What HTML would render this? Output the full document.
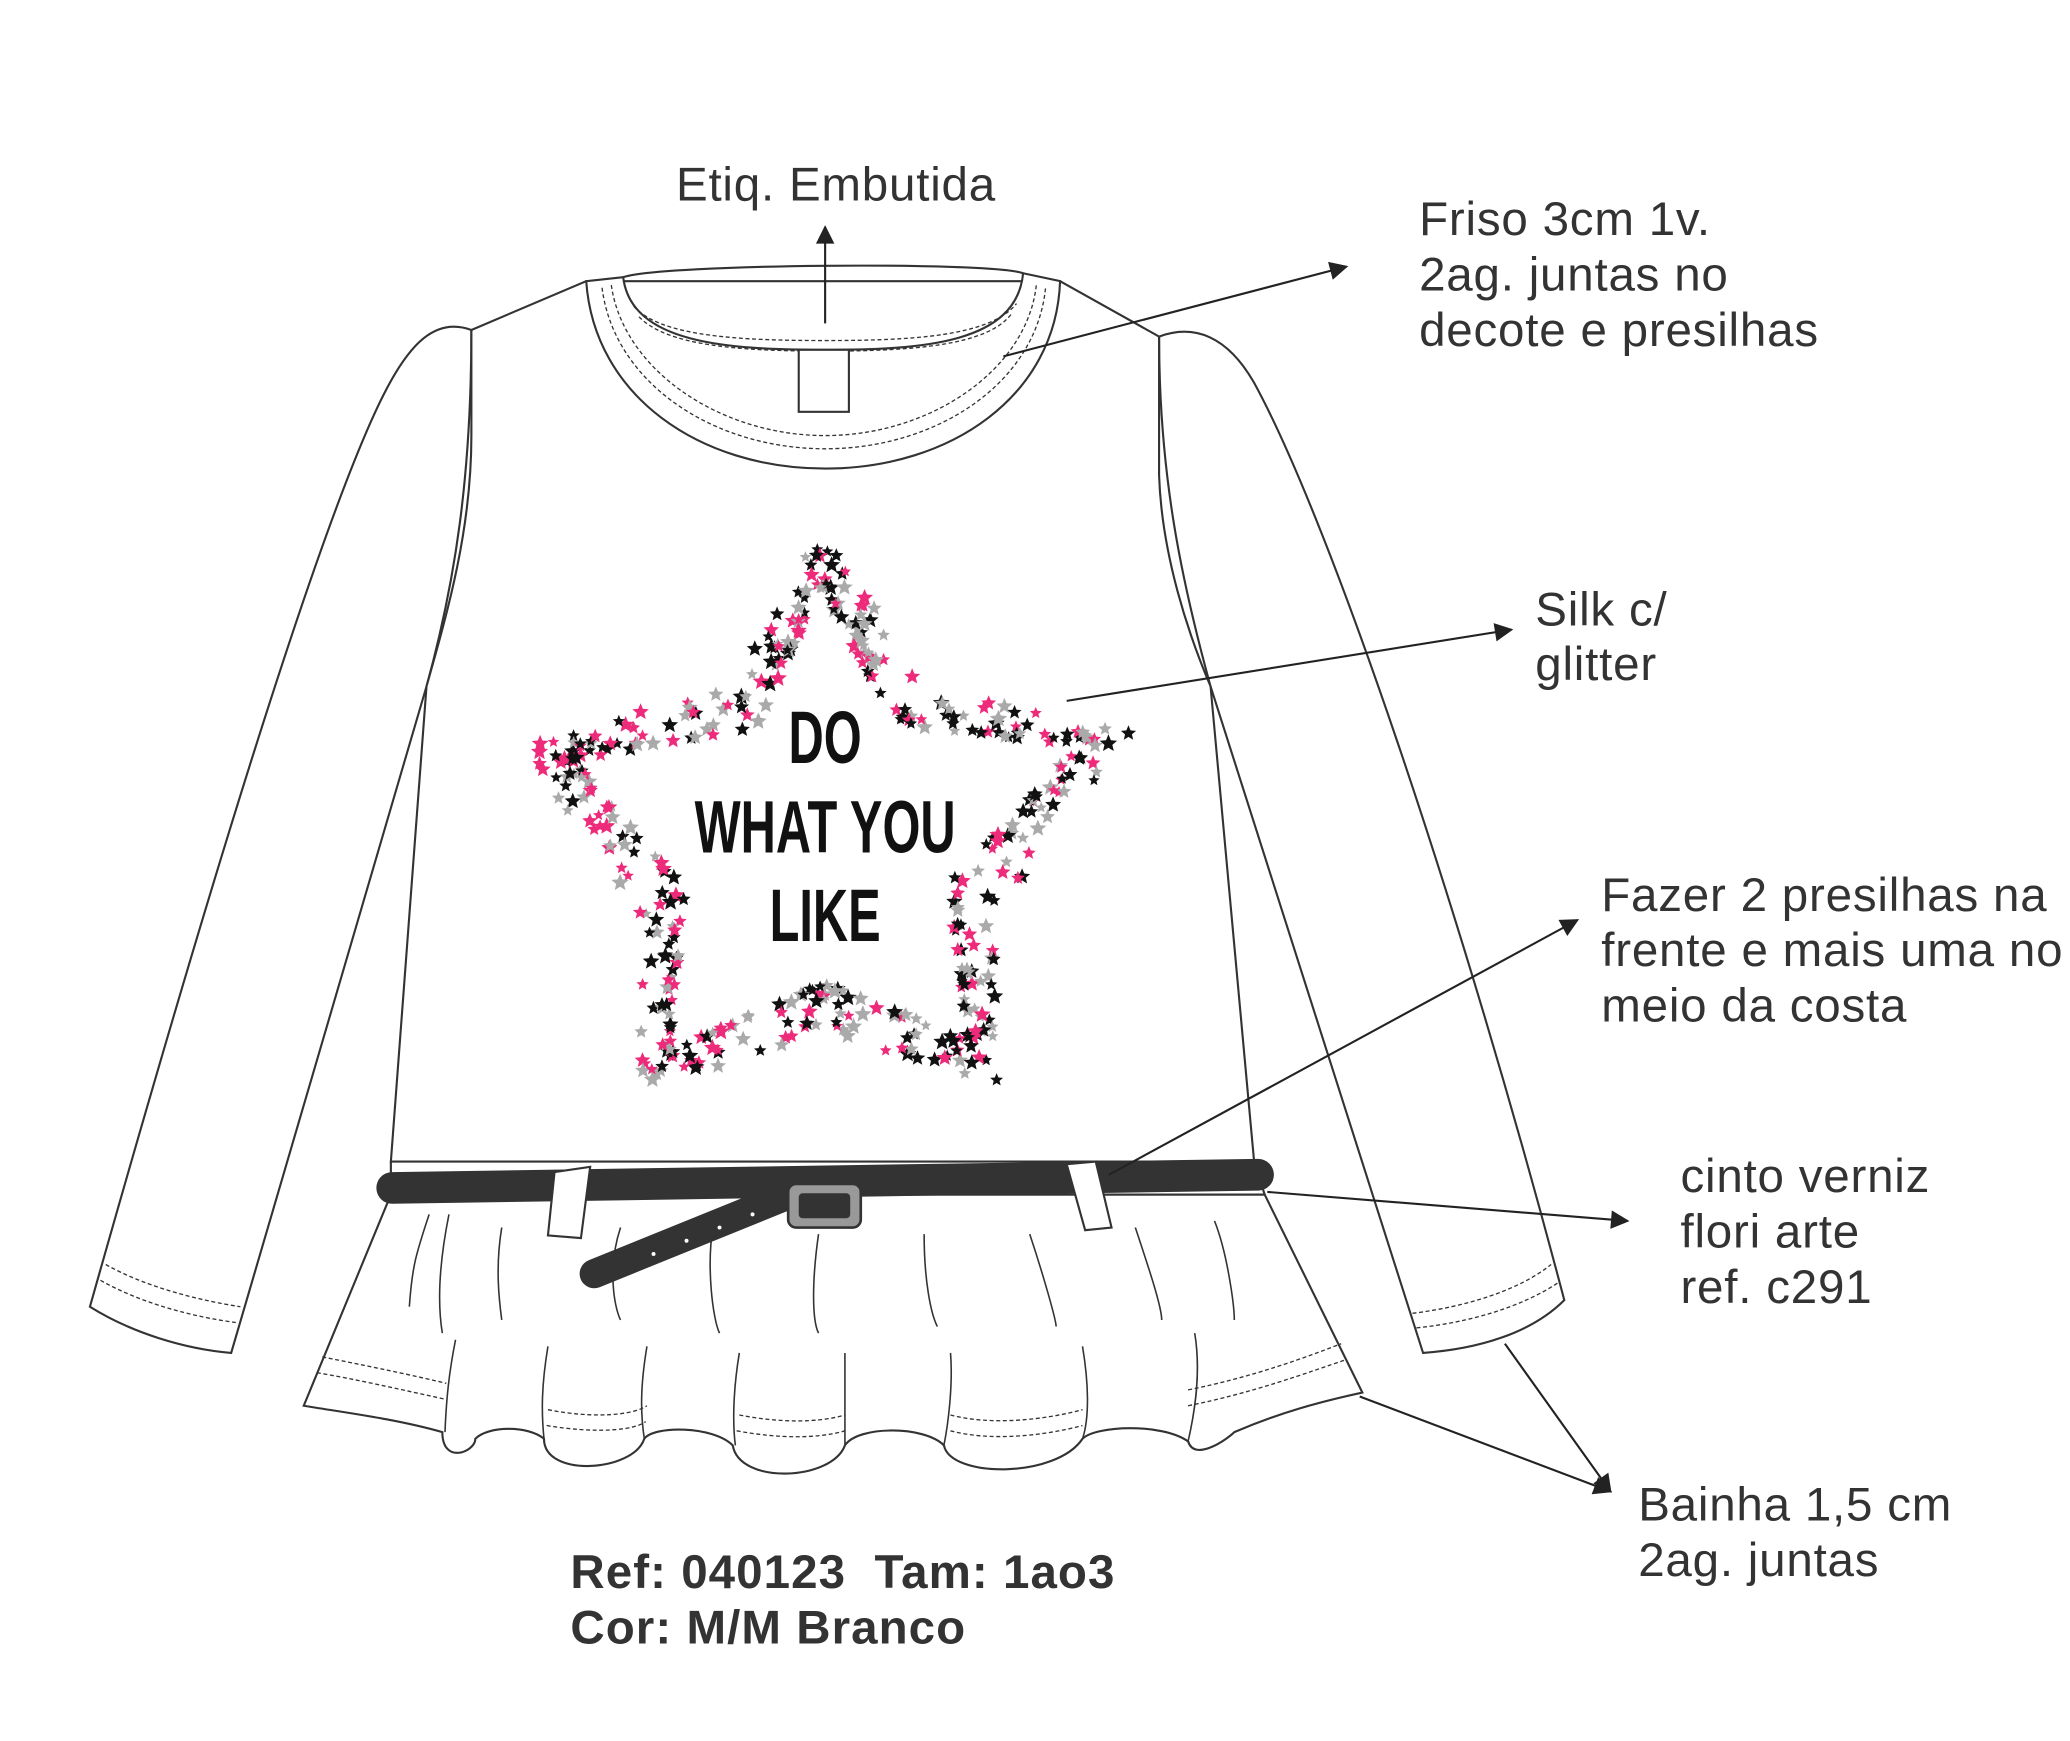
<!DOCTYPE html>
<html><head><meta charset="utf-8"><style>
html,body{margin:0;padding:0;background:#fff;}
svg{display:block}
text{font-family:"Liberation Sans",sans-serif;fill:#333}
</style></head><body>
<svg id="s" width="2070" height="1741" viewBox="0 0 1568 1319" xmlns="http://www.w3.org/2000/svg">
<defs>
<marker id="b" viewBox="0 0 10 10" markerWidth="16" markerHeight="14" refX="9" refY="5" orient="auto" markerUnits="userSpaceOnUse"><path d="M0,0 L10,5 L0,10 z" fill="#222"/></marker></defs>
<g fill="none" stroke="#333" stroke-width="1.6">
<path d="M357,250 C330,240 310,260 290,300 C240,400 150,700 68,990 C100,1010 140,1022 175,1025 L323,520 C345,440 357,360 357,250 Z" fill="#fff"/>
<path d="M80,958 C110,975 150,985 182,990" stroke-dasharray="3,2" stroke-width="1"/>
<path d="M76,970 C108,988 148,998 179,1002" stroke-dasharray="3,2" stroke-width="1"/>
<path d="M878,255 C905,245 930,255 950,290 C1010,400 1110,700 1185,985 C1160,1010 1120,1022 1078,1025 L917,520 C895,440 878,360 878,255 Z" fill="#fff"/>
<path d="M1070,995 C1110,990 1150,978 1175,958" stroke-dasharray="3,2" stroke-width="1"/>
<path d="M1073,1006 C1113,1002 1153,990 1180,972" stroke-dasharray="3,2" stroke-width="1"/>
<path d="M296,905 L230,1065 C260,1070 300,1075 335,1085 C335,1110 360,1100 360,1090 C370,1080 400,1080 412,1090 C412,1120 480,1115 488,1090 C495,1080 540,1080 555,1095 C560,1125 630,1122 640,1095 C650,1080 700,1080 715,1095 C720,1120 800,1120 820,1090 C830,1080 880,1078 900,1092 C905,1108 930,1090 935,1085 C970,1070 1000,1062 1032,1055 L958,905 Z" fill="#fff"/>
<path d="M296,880 L296,905 L958,905 L950,880" fill="#fff"/>
<path d="M357,250 L444,213 L803,213 L878,255 L878,360 C880,420 900,480 917,520 L950,880 L296,880 L323,520 C340,460 357,400 357,330 Z" fill="#fff"/>
<path d="M325,920 C315,950 312,960 310,990 M340,920 C335,945 330,980 335,1010 M380,930 C375,960 378,985 380,1000 M470,930 C460,960 465,990 470,1000 M540,930 C535,960 540,1000 545,1010 M620,935 C615,970 615,1000 620,1010 M700,935 C700,970 705,995 710,1005 M780,935 C790,965 800,1000 800,1005 M860,930 C870,960 880,990 880,1000 M920,925 C930,950 935,990 935,1000 M345,1015 C340,1040 338,1060 337,1085 M415,1020 C410,1050 410,1070 412,1090 M490,1020 C485,1050 485,1070 488,1090 M560,1025 C555,1055 555,1080 557,1095 M640,1025 C640,1055 640,1080 640,1095 M720,1025 C722,1050 718,1080 715,1095 M820,1020 C825,1050 825,1075 820,1090 M905,1010 C910,1040 905,1070 900,1092" stroke-width="1.2"/>
<path d="M240,1040 C270,1045 300,1052 337,1060 M415,1068 C450,1075 480,1072 490,1065 M560,1072 C590,1078 620,1078 640,1072 M720,1072 C750,1080 790,1076 820,1068 M900,1065 C950,1055 990,1040 1020,1030" stroke-dasharray="3,2" stroke-width="1"/>
<path d="M244,1028 C274,1034 304,1040 338,1048 M414,1080 C450,1086 480,1084 489,1077 M558,1084 C590,1090 620,1090 640,1084 M720,1084 C750,1092 790,1088 820,1080 M900,1053 C950,1043 990,1028 1016,1018" stroke-dasharray="3,2" stroke-width="1"/>
<path d="M444,213 C450,300 530,355 625,355 C720,355 800,300 803,213 L775,207 C770,260 700,265 625,265 C550,265 478,260 472,210 Z" fill="#fff"/>
<path d="M472,210 C500,200 750,198 775,207" />
<path d="M456,218 C465,290 540,340 625,340 C710,340 785,290 792,218 M463,216 C472,280 545,330 625,330 C705,330 778,280 785,216 M480,232 C500,255 560,258 625,258 C690,258 750,255 770,230 M484,240 C505,262 560,266 625,266 C690,266 748,262 766,238" stroke-dasharray="3,2" stroke-width="1"/>
<rect x="605" y="265" width="38" height="47" fill="#fff"/>
</g>
<g id="stars"></g>
<g transform="translate(625,0) scale(0.66,1) translate(-625,0)" font-size="56" font-weight="bold">
<text x="625" y="578" text-anchor="middle" style="fill:#111">DO</text>
<text x="625" y="646" text-anchor="middle" style="fill:#111">WHAT YOU</text>
<text x="625" y="713" text-anchor="middle" style="fill:#111">LIKE</text>
</g>
<path d="M297,900 L953,890" stroke="#333" stroke-width="24" stroke-linecap="round"/>
<path d="M598,905 L450,965" stroke="#333" stroke-width="22" stroke-linecap="round"/>
<g fill="#fff"><circle cx="570" cy="920" r="1.5"/><circle cx="545" cy="930" r="1.5"/><circle cx="520" cy="940" r="1.5"/><circle cx="495" cy="950" r="1.5"/></g>
<rect x="597" y="897" width="55" height="33" rx="6" fill="#999" stroke="#333" stroke-width="2"/>
<rect x="605" y="904" width="39" height="19" rx="3" fill="#333"/>
<path d="M420,888 L447,884 L440,938 L415,936 Z" fill="#fff" stroke="#333" stroke-width="1.6"/>
<path d="M808,882 L830,880 L842,930 L822,932 Z" fill="#fff" stroke="#333" stroke-width="1.6"/>
<g stroke="#222" stroke-width="1.6" fill="none">
<line x1="625" y1="245" x2="625" y2="172" marker-end="url(#b)"/>
<line x1="760" y1="270" x2="1020" y2="202" marker-end="url(#b)"/>
<line x1="808" y1="531" x2="1145" y2="477" marker-end="url(#b)"/>
<line x1="840" y1="890" x2="1195" y2="697" marker-end="url(#b)"/>
<line x1="960" y1="903" x2="1233" y2="925" marker-end="url(#b)"/>
<line x1="1030" y1="1058" x2="1220" y2="1130" marker-end="url(#b)"/>
<line x1="1140" y1="1018" x2="1220" y2="1130" marker-end="url(#b)"/>
</g>
<g font-size="36" letter-spacing="0.6">
<text x="512" y="152">Etiq. Embutida</text>
<text x="1075" y="178">Friso 3cm 1v.</text>
<text x="1075" y="220">2ag. juntas no</text>
<text x="1075" y="262">decote e presilhas</text>
<text x="1163" y="474">Silk c/</text>
<text x="1163" y="515">glitter</text>
<text x="1213" y="690">Fazer 2 presilhas na</text>
<text x="1213" y="732">frente e mais uma no</text>
<text x="1213" y="774">meio da costa</text>
<text x="1273" y="903">cinto verniz</text>
<text x="1273" y="945">flori arte</text>
<text x="1273" y="987">ref. c291</text>
<text x="1241" y="1152">Bainha 1,5 cm</text>
<text x="1241" y="1194">2ag. juntas</text>
<text x="432" y="1203" font-weight="bold" letter-spacing="0.8">Ref: 040123&#160; Tam: 1ao3</text>
<text x="432" y="1245" font-weight="bold" letter-spacing="0.8">Cor: M/M Branco</text>
</g>
</svg>
<script>
(function(){
var P=[[622,440],[680,545],[820,565],[722,672],[735,790],[622,748],[505,800],[515,675],[430,575],[570,548],[622,440]];
var cx=625,cy=620,seed=7;function r(){seed=(seed*9301+49297)%233280;return seed/233280;}
var cols=["#111","#ee2a7b","#aaa"],g=document.getElementById("stars"),h="";
function star(x,y,s,c){var p=[];for(var i=0;i<10;i++){var a=-Math.PI/2+i*Math.PI/5,rr=i%2?s*0.45:s;p.push((x+rr*Math.cos(a)).toFixed(1)+","+(y+rr*Math.sin(a)).toFixed(1));}h+='<polygon points="'+p.join(" ")+'" fill="'+c+'"/>';}
for(var k=0;k<10;k++){var a=P[k],b=P[k+1];for(var j=0;j<48;j++){var t=r();var x=a[0]+(b[0]-a[0])*t,y=a[1]+(b[1]-a[1])*t;var dx=x-cx,dy=y-cy,d=Math.sqrt(dx*dx+dy*dy);var off=-4+Math.pow(r(),1.6)*42;star(x+dx/d*off,y+dy/d*off,4.5+r()*2.5,cols[Math.floor(r()*3)]);}}
g.innerHTML=h;})();
</script>
</body></html>
